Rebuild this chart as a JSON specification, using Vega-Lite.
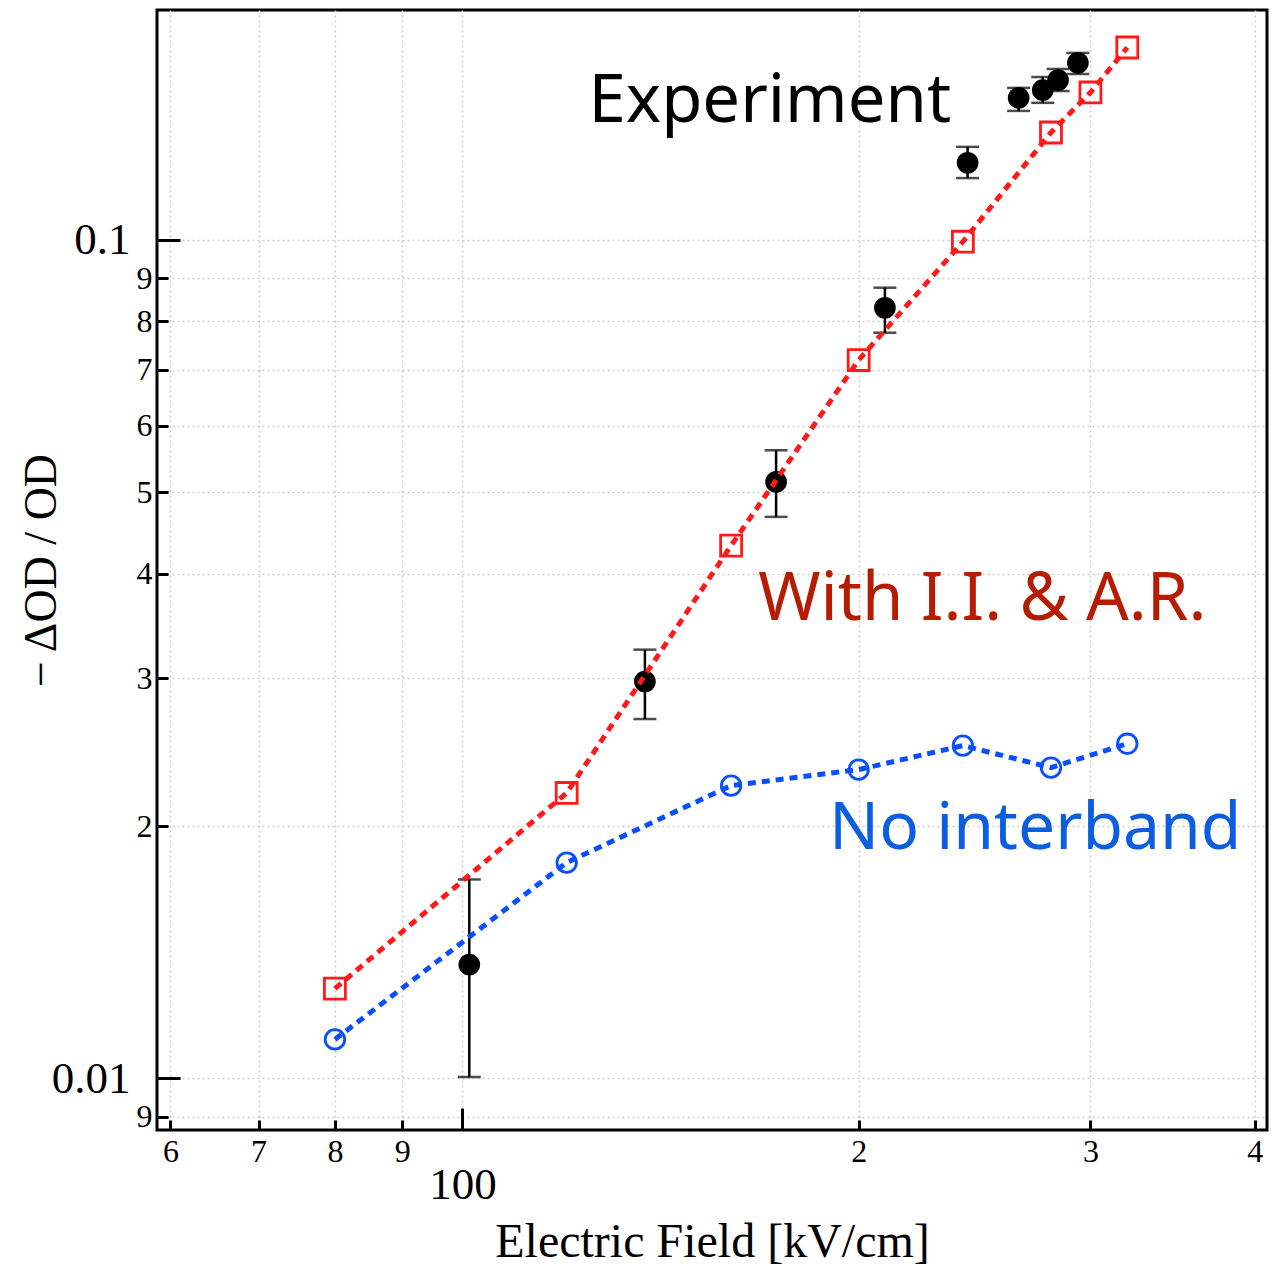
{
  "$schema": "https://vega.github.io/schema/vega-lite/v6.json",
  "width": 1110,
  "height": 1120,
  "autosize": {"type": "none"},
  "padding": {"left": 157, "top": 10, "right": 18, "bottom": 138},
  "background": "white",
  "config": {
    "view": {"stroke": "black", "strokeWidth": 3},
    "axis": {"domain": false, "labelFont": "Liberation Serif", "titleFont": "Liberation Serif", "labelColor": "black", "titleColor": "black", "titleFontWeight": "normal"}
  },
  "datasets": {
    "exp": [
      {"E": 101.2, "v": 0.01367, "lo": 0.01004, "hi": 0.01727},
      {"E": 137.6, "v": 0.02974, "lo": 0.02683, "hi": 0.03246},
      {"E": 173.1, "v": 0.05145, "lo": 0.04674, "hi": 0.05612},
      {"E": 209.4, "v": 0.0830, "lo": 0.0775, "hi": 0.0877},
      {"E": 242.0, "v": 0.1236, "lo": 0.1185, "hi": 0.1291},
      {"E": 264.6, "v": 0.1477, "lo": 0.1425, "hi": 0.1518},
      {"E": 276.0, "v": 0.1509, "lo": 0.1457, "hi": 0.1564},
      {"E": 283.5, "v": 0.1551, "lo": 0.1505, "hi": 0.1599},
      {"E": 293.5, "v": 0.1626, "lo": 0.1577, "hi": 0.1671}
    ],
    "ii": [
      {"E": 80, "v": 0.0128},
      {"E": 120, "v": 0.0219},
      {"E": 160, "v": 0.0432},
      {"E": 200, "v": 0.0719},
      {"E": 240, "v": 0.0995},
      {"E": 280, "v": 0.1343},
      {"E": 300, "v": 0.1499},
      {"E": 320, "v": 0.1696}
    ],
    "noib": [
      {"E": 80, "v": 0.01113},
      {"E": 120, "v": 0.01809},
      {"E": 160, "v": 0.02235},
      {"E": 200, "v": 0.02335},
      {"E": 240, "v": 0.02494},
      {"E": 280, "v": 0.02348},
      {"E": 320, "v": 0.02507}
    ],
    "notes": [
      {"label": "Experiment", "E": 171.2, "v": 0.1382},
      {"label": "With I.I. & A.R.", "E": 248.3, "v": 0.03524},
      {"label": "No interband", "E": 272.4, "v": 0.0188}
    ]
  },
  "layer": [
    {
      "data": {"name": "exp"},
      "mark": {"type": "rule", "color": "black", "strokeWidth": 2.5},
      "encoding": {
        "x": {"field": "E", "type": "quantitative",
          "scale": {"type": "log", "domain": [58.6, 408.6], "nice": false},
          "axis": {"orient": "bottom", "values": [60, 70, 80, 90, 100, 200, 300, 400], "grid": true, "gridColor": "#cccccc", "gridDash": [2, 3], "gridWidth": 1.5,
            "ticks": true, "tickColor": "black", "tickWidth": 3, "tickSize": {"condition": {"test": "datum.value == 100", "value": -22}, "value": -10},
            "labels": false, "domain": false, "title": null}},
        "y": {"field": "lo", "type": "quantitative",
          "scale": {"type": "log", "domain": [0.00868, 0.188], "nice": false},
          "axis": {"orient": "left", "values": [0.009, 0.01, 0.02, 0.03, 0.04, 0.05, 0.06, 0.07, 0.08, 0.09, 0.1], "grid": true, "gridColor": "#cccccc", "gridDash": [2, 3], "gridWidth": 1.5,
            "ticks": true, "tickColor": "black", "tickWidth": 3, "tickSize": {"condition": {"test": "datum.value == 0.01 || datum.value == 0.1", "value": -23}, "value": -11},
            "labels": false, "domain": false, "title": null}},
        "y2": {"field": "hi"}
      }
    },
    {
      "data": {"name": "exp"},
      "transform": [{"fold": ["lo", "hi"], "as": ["end", "yv"]}],
      "mark": {"type": "tick", "orient": "horizontal", "color": "black", "size": 23, "thickness": 2.5},
      "encoding": {
        "x": {"field": "E", "type": "quantitative",
          "scale": {"type": "log", "domain": [58.6, 408.6], "nice": false},
          "axis": {"orient": "bottom", "values": [60, 70, 80, 90, 200, 300, 400], "grid": false, "ticks": false, "tickSize": 0, "domain": false,
            "labelExpr": "datum.value >= 100 ? '' + round(datum.value / 100) : '' + round(datum.value / 10)",
            "labelFontSize": 32, "labelPadding": 6, "title": null}},
        "y": {"field": "yv", "type": "quantitative",
          "scale": {"type": "log", "domain": [0.00868, 0.188], "nice": false},
          "axis": {"orient": "left", "values": [0.009, 0.02, 0.03, 0.04, 0.05, 0.06, 0.07, 0.08, 0.09], "grid": false, "ticks": false, "tickSize": 0, "domain": false,
            "labelExpr": "datum.value < 0.01 ? '' + round(datum.value * 1000) : '' + round(datum.value * 100)",
            "labelFontSize": 32, "labelPadding": 5, "title": null}}
      }
    },
    {
      "data": {"name": "exp"},
      "mark": {"type": "point", "shape": "circle", "filled": true, "color": "black", "opacity": 1, "size": 470},
      "encoding": {
        "x": {"field": "E", "type": "quantitative",
          "scale": {"type": "log", "domain": [58.6, 408.6], "nice": false},
          "axis": {"orient": "bottom", "values": [100], "grid": false, "ticks": false, "tickSize": 0, "domain": false,
            "labelFontSize": 45, "labelPadding": 32,
            "title": "Electric Field [kV/cm]", "titleFontSize": 48, "titleX": 555, "titleY": 126, "titleBaseline": "alphabetic", "titleAlign": "center"}},
        "y": {"field": "v", "type": "quantitative",
          "scale": {"type": "log", "domain": [0.00868, 0.188], "nice": false},
          "axis": {"orient": "left", "values": [0.01, 0.1], "grid": false, "ticks": false, "tickSize": 0, "domain": false,
            "labelExpr": "datum.value == 0.1 ? '0.1' : '0.01'",
            "labelFontSize": 45, "labelPadding": 27,
            "title": "− ΔOD / OD", "titleFontSize": 46, "titleX": -102, "titleY": 560, "titleAngle": -90, "titleBaseline": "alphabetic", "titleAlign": "center"}}
      }
    },
    {
      "data": {"name": "ii"},
      "mark": {"type": "line", "color": "#ff1a1a", "strokeWidth": 5, "strokeDash": [8, 6]},
      "encoding": {
        "x": {"field": "E", "type": "quantitative", "scale": {"type": "log", "domain": [58.6, 408.6], "nice": false}, "axis": null},
        "y": {"field": "v", "type": "quantitative", "scale": {"type": "log", "domain": [0.00868, 0.188], "nice": false}, "axis": null}
      }
    },
    {
      "data": {"name": "ii"},
      "mark": {"type": "point", "shape": "square", "filled": false, "color": "#ff1a1a", "strokeWidth": 2.8, "size": 440, "opacity": 1},
      "encoding": {
        "x": {"field": "E", "type": "quantitative", "scale": {"type": "log", "domain": [58.6, 408.6], "nice": false}, "axis": null},
        "y": {"field": "v", "type": "quantitative", "scale": {"type": "log", "domain": [0.00868, 0.188], "nice": false}, "axis": null}
      }
    },
    {
      "data": {"name": "noib"},
      "mark": {"type": "line", "color": "#0a4fff", "strokeWidth": 5, "strokeDash": [8, 6]},
      "encoding": {
        "x": {"field": "E", "type": "quantitative", "scale": {"type": "log", "domain": [58.6, 408.6], "nice": false}, "axis": null},
        "y": {"field": "v", "type": "quantitative", "scale": {"type": "log", "domain": [0.00868, 0.188], "nice": false}, "axis": null}
      }
    },
    {
      "data": {"name": "noib"},
      "mark": {"type": "point", "shape": "circle", "filled": false, "color": "#0a4fff", "strokeWidth": 2.8, "size": 380, "opacity": 1},
      "encoding": {
        "x": {"field": "E", "type": "quantitative", "scale": {"type": "log", "domain": [58.6, 408.6], "nice": false}, "axis": null},
        "y": {"field": "v", "type": "quantitative", "scale": {"type": "log", "domain": [0.00868, 0.188], "nice": false}, "axis": null}
      }
    },
    {
      "data": {"name": "notes"},
      "transform": [{"filter": "datum.label == 'Experiment'"}],
      "mark": {"type": "text", "font": "Noto Sans", "fontSize": 67, "color": "black", "align": "center", "baseline": "alphabetic"},
      "encoding": {
        "x": {"field": "E", "type": "quantitative", "scale": {"type": "log", "domain": [58.6, 408.6], "nice": false}, "axis": null},
        "y": {"field": "v", "type": "quantitative", "scale": {"type": "log", "domain": [0.00868, 0.188], "nice": false}, "axis": null},
        "text": {"field": "label"}
      }
    },
    {
      "data": {"name": "notes"},
      "transform": [{"filter": "datum.label == 'With I.I. & A.R.'"}],
      "mark": {"type": "text", "font": "Noto Sans", "fontSize": 67, "color": "#b51c02", "align": "center", "baseline": "alphabetic"},
      "encoding": {
        "x": {"field": "E", "type": "quantitative", "scale": {"type": "log", "domain": [58.6, 408.6], "nice": false}, "axis": null},
        "y": {"field": "v", "type": "quantitative", "scale": {"type": "log", "domain": [0.00868, 0.188], "nice": false}, "axis": null},
        "text": {"field": "label"}
      }
    },
    {
      "data": {"name": "notes"},
      "transform": [{"filter": "datum.label == 'No interband'"}],
      "mark": {"type": "text", "font": "Noto Sans", "fontSize": 66, "color": "#0b5ee0", "align": "center", "baseline": "alphabetic"},
      "encoding": {
        "x": {"field": "E", "type": "quantitative", "scale": {"type": "log", "domain": [58.6, 408.6], "nice": false}, "axis": null},
        "y": {"field": "v", "type": "quantitative", "scale": {"type": "log", "domain": [0.00868, 0.188], "nice": false}, "axis": null},
        "text": {"field": "label"}
      }
    }
  ],
  "resolve": {"axis": {"x": "independent", "y": "independent"}}
}
